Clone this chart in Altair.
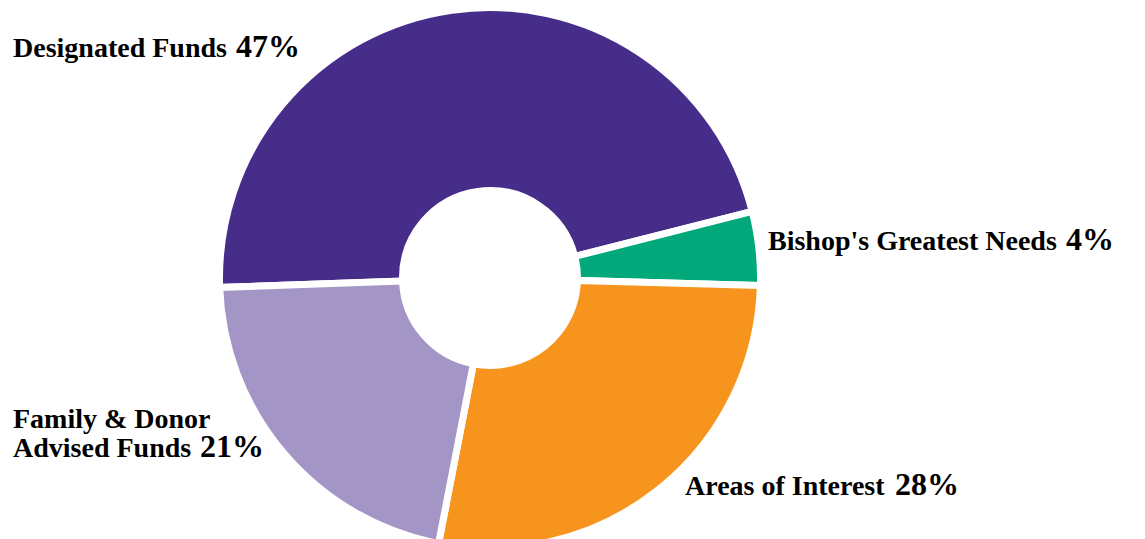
import math
import altair as alt
import pandas as pd

# ---- data ----
categories = ["Designated Funds", "Bishop's Greatest Needs", "Areas of Interest", "Family & Donor\nAdvised Funds"]
values = [46.6, 4.4, 27.6, 21.4]
pct_labels = ["47%", "4%", "28%", "21%"]
colors = ["#472D8A", "#00A87A", "#F7941E", "#A395C6"]

df = pd.DataFrame({
    "category": categories,
    "value": values,
    "pct": pct_labels,
    "order": list(range(len(categories))),
})

# ---- layout (plot-area pixel coordinates) ----
CX, CY = 482, 270
START = math.radians(268)
FONT = "Liberation Serif"
NAME_SIZE = 28
PCT_SIZE = 32

# anchor of name (left, baseline) and of percentage (left, baseline)
name_pos = {
    categories[0]: (5, 49),
    categories[1]: (760, 242),
    categories[2]: (677, 487),
    categories[3]: (5, 420),
}
pct_pos = {
    categories[0]: (228, 49),
    categories[1]: (1058, 242),
    categories[2]: (887, 487),
    categories[3]: (192, 449),
}

base = alt.Chart(df)

arc = base.mark_arc(radius=270.5, radius2=87.5, stroke="white", strokeWidth=7).encode(
    theta=alt.Theta("value:Q", stack=True, scale=alt.Scale(range=[START, START + 2 * math.pi])),
    order=alt.Order("order:Q"),
    color=alt.Color("category:N", scale=alt.Scale(domain=categories, range=colors), legend=None),
    x=alt.value(CX),
    y=alt.value(CY),
)

layers = [arc]
for cat in categories:
    nx, ny = name_pos[cat]
    px, py = pct_pos[cat]
    layers.append(
        base.transform_filter(alt.datum.category == cat)
        .mark_text(font=FONT, fontWeight="bold", fontSize=NAME_SIZE, align="left",
                   baseline="alphabetic", lineBreak="\n", lineHeight=29, color="#000000")
        .encode(text="category:N", x=alt.value(nx), y=alt.value(ny))
    )
    layers.append(
        base.transform_filter(alt.datum.category == cat)
        .mark_text(font=FONT, fontWeight="bold", fontSize=PCT_SIZE, align="left",
                   baseline="alphabetic", color="#000000")
        .encode(text="pct:N", x=alt.value(px), y=alt.value(py))
    )

chart = alt.layer(*layers).properties(
    width=1125, height=531, padding=0,
    autosize=alt.AutoSizeParams(type="none"),
).configure_view(strokeWidth=0)

chart.save("out.html", embed_options={"renderer": "svg", "actions": False})
